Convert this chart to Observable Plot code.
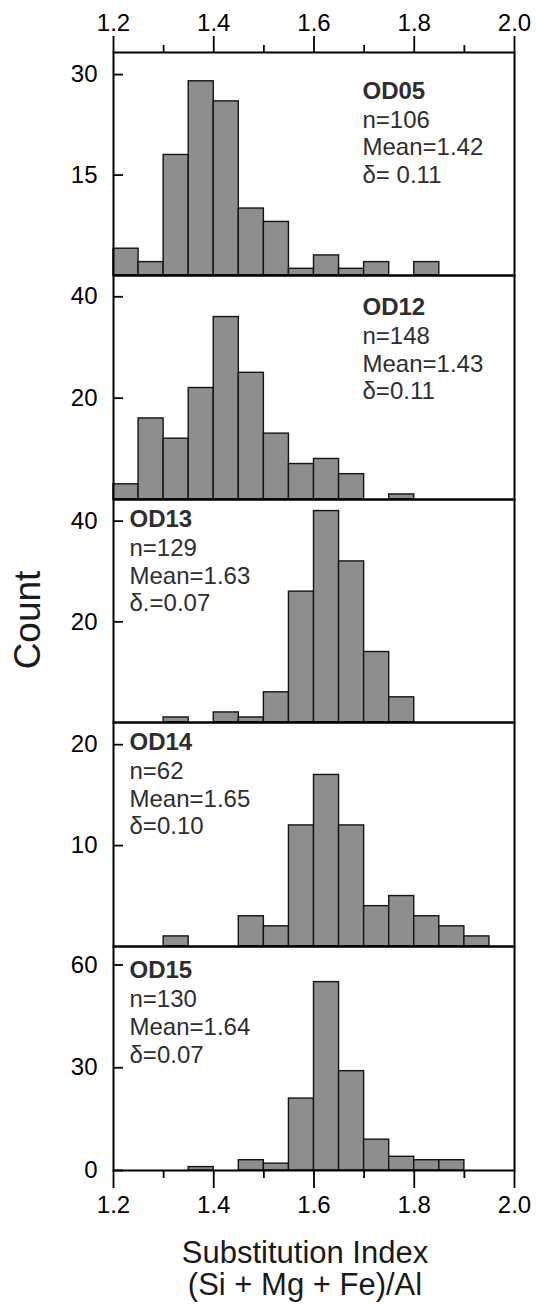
<!DOCTYPE html>
<html>
<head>
<meta charset="utf-8">
<script src="https://cdn.jsdelivr.net/npm/d3@7"></script>
<script src="https://cdn.jsdelivr.net/npm/@observablehq/plot@0.6"></script>
<style>
  body { margin: 0; background: #fff; }
  #chart { position: relative; width: 537px; height: 1310px; font-family: "Liberation Sans", Arial, sans-serif; color: #000; }
  #chart svg { position: absolute; left: 0; overflow: visible; }
  .ytitle { position: absolute; left: 28px; top: 620px; font-size: 37px; transform: translate(-50%, -50%) rotate(-90deg); white-space: nowrap; color: #1a1a1a; }
  .xtitle { position: absolute; left: 105px; width: 400px; font-size: 31px; line-height: 32px; height: 32px; text-align: center; color: #1a1a1a; white-space: nowrap; }
</style>
</head>
<body>
<div id="chart">
  <div class="ytitle">Count</div>
  <div class="xtitle" style="top: 1237px;">Substitution Index</div>
  <div class="xtitle" style="top: 1269px;">(Si + Mg + Fe)/Al</div>
</div>
<script>
// Bin edges of the substitution-index histograms (bin width 0.05)
const binEdges = [1.20, 1.25, 1.30, 1.35, 1.40, 1.45, 1.50, 1.55, 1.60, 1.65, 1.70, 1.75, 1.80, 1.85, 1.90, 1.95, 2.00];

// Sample names and per-bin counts
const samples = ["OD05", "OD12", "OD13", "OD14", "OD15"];
const countsOD05 = [4, 2, 18, 29, 26, 10, 8, 1, 3, 1, 2, 0, 2, 0, 0, 0];
const countsOD12 = [3, 16, 12, 22, 36, 25, 13, 7, 8, 5, 0, 1, 0, 0, 0, 0];
const countsOD13 = [0, 0, 1, 0, 2, 1, 6, 26, 42, 32, 14, 5, 0, 0, 0, 0];
const countsOD14 = [0, 0, 1, 0, 0, 3, 2, 12, 17, 12, 4, 5, 3, 2, 1, 0];
const countsOD15 = [0, 0, 0, 1, 0, 3, 2, 21, 55, 29, 9, 4, 3, 3, 0, 0];
const sampleCounts = [countsOD05, countsOD12, countsOD13, countsOD14, countsOD15];

// Summary statistics printed in each panel
const sampleN = [106, 148, 129, 62, 130];
const sampleMean = ["1.42", "1.43", "1.63", "1.65", "1.64"];
const sampleDelta = ["δ= 0.11", "δ=0.11", "δ.=0.07", "δ=0.10", "δ=0.07"];

// Axis ticks
const yTickValues = [[15, 30], [20, 40], [20, 40], [10, 20], [0, 30, 60]];
const yDomainMax = [33.3, 44.2, 44.3, 22.2, 65.4];
const xMajorTicks = [1.2, 1.4, 1.6, 1.8, 2.0];
const xMinorTicks = [1.3, 1.5, 1.7, 1.9];

// Layout: panel borders (px), annotation placement
const panelBounds = [52, 275, 499, 722, 946, 1170];
const labelLayout = [
  {dx: 249, titleDy: 38.7, statsDy: 94},
  {dx: 249, titleDy: 31.7, statsDy: 87.5},
  {dx: 16, titleDy: 20.3, statsDy: 75.2},
  {dx: 16, titleDy: 19.7, statsDy: 75.2},
  {dx: 16, titleDy: 24, statsDy: 79.7}
];

const FONT = "'Liberation Sans', Arial, sans-serif";
const chart = document.getElementById("chart");

samples.forEach((name, i) => {
  const rows = sampleCounts[i]
    .map((c, j) => ({x1: binEdges[j], x2: binEdges[j + 1], count: c}))
    .filter(d => d.count > 0);

  const first = i === 0;
  const last = i === samples.length - 1;
  const mt = first ? panelBounds[0] : 1;
  const mb = last ? 60 : 1;
  const top = panelBounds[i] - mt;
  const height = panelBounds[i + 1] - panelBounds[i] + mt + mb;
  const lay = labelLayout[i];

  const marks = [
    Plot.rect(rows, {x1: "x1", x2: "x2", y1: 0, y2: "count", fill: "#8e8e8e", stroke: "#141414", strokeWidth: 1.4}),
    Plot.frame({stroke: "#000", strokeWidth: 2}),
    Plot.axisY({ticks: yTickValues[i], tickSize: 0, tickPadding: 16, label: null, fontSize: 24, fill: "#000"}),
    Plot.axisY({ticks: yTickValues[i], tickSize: -10, fill: "none", label: null, strokeWidth: 1.8, stroke: "#000"}),
    Plot.text([name], {frameAnchor: "top-left", dx: lay.dx, dy: lay.titleDy, text: d => d, textAnchor: "start", lineAnchor: "middle", fontWeight: "bold", fontSize: 24, fill: "#2e2e2e"}),
    Plot.text([`n=${sampleN[i]}\nMean=${sampleMean[i]}\n${sampleDelta[i]}`], {frameAnchor: "top-left", dx: lay.dx, dy: lay.statsDy, text: d => d, textAnchor: "start", lineAnchor: "middle", lineHeight: 1.15, fontSize: 24, fill: "#2e2e2e"})
  ];

  if (first) {
    marks.push(
      Plot.axisX({anchor: "top", ticks: xMajorTicks, tickSize: 17, tickPadding: 5, tickFormat: ".1f", label: null, fontSize: 24, strokeWidth: 1.8, stroke: "#000", fill: "#000"}),
      Plot.axisX({anchor: "top", ticks: xMinorTicks, tickSize: 8, fill: "none", label: null, strokeWidth: 1.8, stroke: "#000"})
    );
  }
  if (last) {
    marks.push(
      Plot.axisX({anchor: "bottom", ticks: xMajorTicks, tickSize: 18, tickPadding: 7, tickFormat: ".1f", label: null, fontSize: 24, strokeWidth: 1.8, stroke: "#000", fill: "#000"}),
      Plot.axisX({anchor: "bottom", ticks: xMinorTicks, tickSize: 8, fill: "none", label: null, strokeWidth: 1.8, stroke: "#000"})
    );
  }

  const svg = Plot.plot({
    width: 537,
    height,
    marginLeft: 113,
    marginRight: 23,
    marginTop: mt,
    marginBottom: mb,
    x: {domain: [1.2, 2.0], axis: null},
    y: {domain: [0, yDomainMax[i]], axis: null},
    style: {fontFamily: FONT, fontSize: "24px", background: "transparent", overflow: "visible", color: "#000"},
    marks
  });
  svg.style.top = top + "px";
  chart.appendChild(svg);
});
</script>
</body>
</html>
